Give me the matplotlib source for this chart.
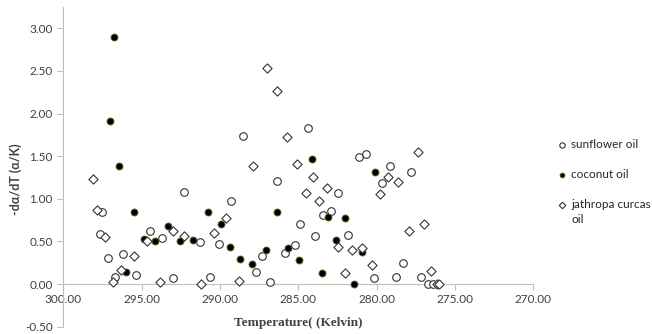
import matplotlib
matplotlib.use('Agg')
import matplotlib.pyplot as plt

# temperature (K) and -da/dT values
sunflower_t = [297.52, 297.69, 297.15, 296.17, 296.69, 295.34, 294.49, 293.69, 292.97, 292.28,
               291.30, 290.64, 290.06, 289.27, 288.50, 287.71, 287.33, 286.83, 286.37, 285.83,
               285.23, 284.89, 284.36, 283.91, 283.44, 282.92, 282.44, 281.80, 281.15, 280.66,
               280.17, 279.63, 279.17, 278.74, 278.29, 277.78, 277.19, 276.70, 276.38]
sunflower_y = [0.85, 0.59, 0.30, 0.35, 0.08, 0.11, 0.62, 0.54, 0.07, 1.08,
               0.49, 0.08, 0.47, 0.97, 1.74, 0.14, 0.33, 0.02, 1.21, 0.37,
               0.46, 0.70, 1.83, 0.56, 0.81, 0.86, 1.07, 0.58, 1.49, 1.53,
               0.07, 1.18, 1.38, 0.08, 0.25, 1.31, 0.08, 0.00, 0.00]

coconut_t = [296.79, 296.99, 296.43, 296.03, 295.51, 294.87, 294.12, 293.29, 292.56, 291.75,
             290.77, 289.95, 289.33, 288.72, 287.95, 287.07, 286.35, 285.64, 284.94, 284.14,
             283.52, 283.12, 282.60, 282.01, 281.43, 280.92, 280.13]
coconut_y = [2.90, 1.91, 1.39, 0.14, 0.84, 0.53, 0.51, 0.68, 0.50, 0.52,
             0.84, 0.71, 0.43, 0.29, 0.23, 0.40, 0.84, 0.42, 0.28, 1.47,
             0.13, 0.79, 0.52, 0.78, 0.00, 0.38, 1.32]

jatropha_t = [298.12, 297.86, 297.37, 296.83, 296.30, 295.49, 294.65, 293.82, 293.01, 292.28,
              291.24, 290.38, 289.59, 288.76, 287.88, 287.01, 286.38, 285.70, 285.08, 284.51,
              284.06, 283.67, 283.14, 282.45, 281.99, 281.56, 280.92, 280.30, 279.78, 279.29,
              278.61, 277.92, 277.33, 276.99, 276.51, 276.17, 276.03]
jatropha_y = [1.23, 0.87, 0.55, 0.03, 0.16, 0.33, 0.50, 0.03, 0.62, 0.56,
              0.00, 0.60, 0.77, 0.04, 1.39, 2.53, 2.27, 1.73, 1.41, 1.07,
              1.26, 0.98, 1.13, 0.43, 0.13, 0.40, 0.42, 0.22, 1.06, 1.26,
              1.20, 0.62, 1.55, 0.70, 0.15, 0.00, 0.00]

x_ticks = [300, 295, 290, 285, 280, 275, 270]
y_ticks = [-0.5, 0, 0.5, 1.0, 1.5, 2.0, 2.5, 3.0]

fig = plt.figure(figsize=(6.52, 3.34), dpi=100)
ax = fig.add_axes([0.0971, 0.0219, 0.7209, 0.957])

ax.scatter(sunflower_t, sunflower_y, s=30, marker='o', facecolor='white',
           edgecolor='#333333', linewidth=0.8, label='sunflower oil', zorder=3)
ax.scatter(coconut_t, coconut_y, s=26, marker='o', facecolor='black',
           edgecolor='#6b7a2a', linewidth=0.6, label='coconut oil', zorder=3)
ax.scatter(jatropha_t, jatropha_y, s=22, marker='D', facecolor='white',
           edgecolor='#333333', linewidth=0.8, label='jathropa curcas', zorder=3)

ax.set_xlim(300, 270)
ax.set_ylim(-0.5, 3.25)
ax.set_xticks(x_ticks)
ax.set_xticklabels(['%.2f' % v for v in x_ticks])
ax.set_yticks(y_ticks)
ax.set_yticklabels(['%.2f' % v for v in y_ticks])

for side in ['top', 'right']:
    ax.spines[side].set_visible(False)
ax.spines['bottom'].set_position(('data', 0))
ax.spines['left'].set_color('#bfbfbf')
ax.spines['bottom'].set_color('#bfbfbf')
ax.tick_params(axis='both', colors='#bfbfbf', length=4, width=0.8, labelcolor='#404040',
               labelsize=8.5)
for lbl in ax.get_xticklabels() + ax.get_yticklabels():
    lbl.set_family('Lato')

ax.set_xlabel('Temperature( (Kelvin)', family='Liberation Serif', fontweight='bold',
              fontsize=9.5, color='#404040', labelpad=8)
ax.set_ylabel('-dα/dT (α/K)', family='Lato', fontweight='bold', fontsize=9,
              color='#404040')
ax.yaxis.set_label_coords(-0.087, 0.462)

leg = fig.legend(loc='upper left', bbox_to_anchor=(0.838, 0.616), frameon=False,
                 prop={'family': 'Lato', 'size': 8.5}, handletextpad=0.3,
                 labelspacing=1.62, handlelength=0.9, markerscale=0.7)
for t in leg.get_texts():
    t.set_color('#262626')

# second line of the wrapped legend entry
fig.canvas.draw()
bb = leg.get_texts()[2].get_window_extent().transformed(fig.transFigure.inverted())
fig.text(bb.x0, bb.y0 - 0.012, 'oil', family='Lato', fontsize=8.5, color='#262626',
         ha='left', va='top')

fig.savefig('out.png', dpi=100)
